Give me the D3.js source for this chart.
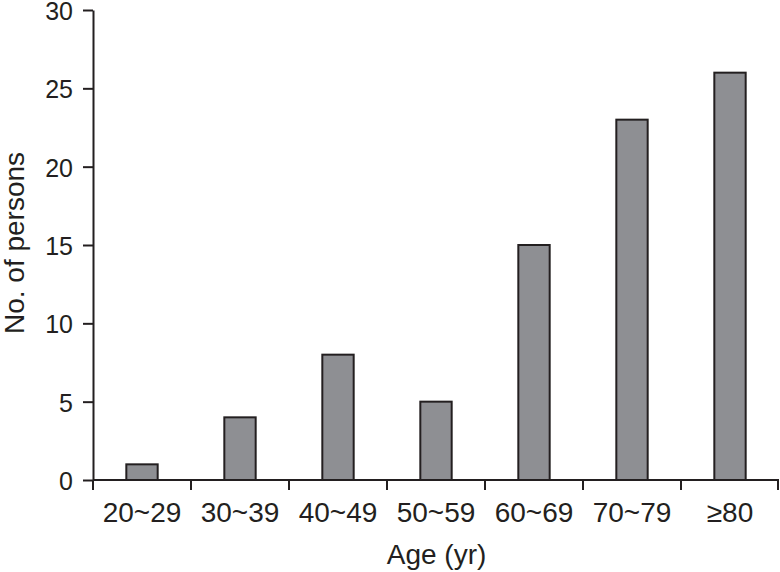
<!DOCTYPE html>
<html>
<head>
<meta charset="utf-8">
<script src="https://cdn.jsdelivr.net/npm/d3@7"></script>
<style>
  body { margin: 0; background: #fff; }
  text { font-family: "Liberation Sans", Arial, Helvetica, sans-serif; fill: #231f20; }
</style>
</head>
<body>
<div id="chart"></div>
<script>
// data
const ageGroups = ["20~29", "30~39", "40~49", "50~59", "60~69", "70~79", "\u226580"];
const persons = [1, 4, 8, 5, 15, 23, 26];
const yTicks = [0, 5, 10, 15, 20, 25, 30];

const width = 780, height = 572;
const margin = { top: 10, right: 1, bottom: 92, left: 93 };

const svg = d3.select("#chart").append("svg")
  .attr("width", width)
  .attr("height", height);

const x = d3.scaleBand()
  .domain(ageGroups)
  .range([margin.left, width - margin.right])
  .padding(0);

const y = d3.scaleLinear()
  .domain([0, 30])
  .range([height - margin.bottom, margin.top]);

const barW = x.bandwidth() * 0.32;

// bars
svg.selectAll("rect.bar")
  .data(ageGroups)
  .enter()
  .append("rect")
  .attr("class", "bar")
  .attr("x", (d) => x(d) + x.bandwidth() / 2 - barW / 2)
  .attr("y", (d, i) => y(persons[i]))
  .attr("width", barW)
  .attr("height", (d, i) => y(0) - y(persons[i]))
  .style("fill", "#8e8f93")
  .style("stroke", "#231f20")
  .style("stroke-width", 2);

// y axis
const yAxis = svg.append("g")
  .attr("transform", "translate(" + margin.left + ",0)")
  .call(d3.axisLeft(y).tickValues(yTicks).tickSize(10).tickPadding(10).tickSizeOuter(0));
yAxis.select(".domain").attr("stroke", "#231f20").attr("stroke-width", 2);
yAxis.selectAll(".tick line").attr("stroke", "#231f20").attr("stroke-width", 2);
yAxis.selectAll(".tick text").style("font-size", "25px").attr("dy", "0.38em").attr("fill", "#231f20");

// x axis: ticks at category boundaries
const xAxisG = svg.append("g")
  .attr("transform", "translate(0," + y(0) + ")");
xAxisG.append("line")
  .attr("x1", margin.left)
  .attr("x2", width - margin.right)
  .attr("stroke", "#231f20")
  .attr("stroke-width", 2);
const bounds = ageGroups.map((d) => x(d)).concat([x(ageGroups[ageGroups.length - 1]) + x.bandwidth()]);
xAxisG.selectAll("line.bound")
  .data(bounds)
  .enter()
  .append("line")
  .attr("class", "bound")
  .attr("x1", (d) => Math.min(d, width - 2))
  .attr("x2", (d) => Math.min(d, width - 2))
  .attr("y1", 0)
  .attr("y2", 10)
  .attr("stroke", "#231f20")
  .attr("stroke-width", 2);
xAxisG.selectAll("text.lab")
  .data(ageGroups)
  .enter()
  .append("text")
  .attr("class", "lab")
  .attr("x", (d) => x(d) + x.bandwidth() / 2)
  .attr("y", 42)
  .attr("text-anchor", "middle")
  .style("font-size", "28px")
  .text((d) => d);

// axis titles
svg.append("text")
  .attr("x", (margin.left + width) / 2)
  .attr("y", 564)
  .attr("text-anchor", "middle")
  .style("font-size", "28px")
  .text("Age (yr)");

svg.append("text")
  .attr("transform", "translate(24," + (y(15) - 2) + ") rotate(-90)")
  .attr("text-anchor", "middle")
  .style("font-size", "28px")
  .text("No. of persons");
</script>
</body>
</html>
